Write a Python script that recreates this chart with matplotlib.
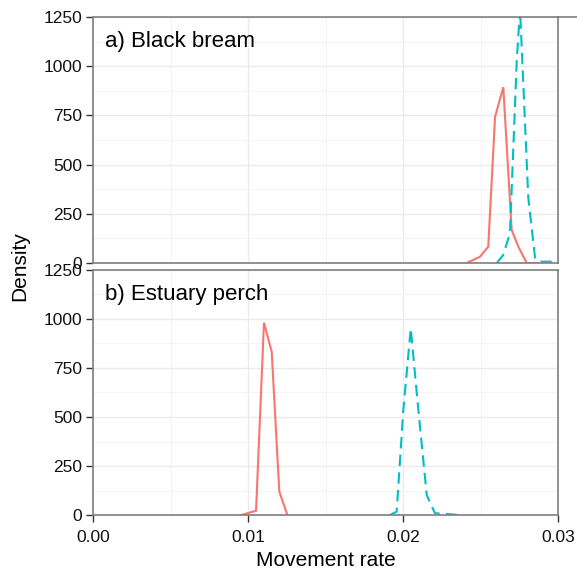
import matplotlib
matplotlib.use("Agg")
import matplotlib.pyplot as plt
from matplotlib.lines import Line2D
from matplotlib.ticker import MultipleLocator

plt.rcParams['font.family'] = ['Liberation Sans', 'DejaVu Sans']

# Panel a) Black bream
a_red_x = [0.02411, 0.02497, 0.02550, 0.02594, 0.02647, 0.02701, 0.02744, 0.02798, 0.02870]
a_red_y = [0, 32, 83, 743, 893, 168, 83, 0, 0]
a_cyan_x = [0.02605, 0.02647, 0.02690, 0.02734, 0.02755, 0.02808, 0.02852, 0.02884, 0.02959]
a_cyan_y = [0, 41, 152, 1031, 1290, 335, 25, 7, 7]

# Panel b) Estuary perch
b_red_x = [0.00959, 0.01052, 0.01103, 0.01153, 0.01202, 0.01254]
b_red_y = [0, 22, 981, 833, 119, 0]
b_cyan_x = [0.01916, 0.01959, 0.02002, 0.02050, 0.02099, 0.02153, 0.02206, 0.02292, 0.02360]
b_cyan_y = [0, 17, 536, 952, 536, 102, 9, 5, 0]

panels = [
    ("a) Black bream", a_red_x, a_red_y, a_cyan_x, a_cyan_y),
    ("b) Estuary perch", b_red_x, b_red_y, b_cyan_x, b_cyan_y),
]
yticks = [0, 250, 500, 750, 1000, 1250]
xticks = [0.00, 0.01, 0.02, 0.03]
xticklabels = ["0.00", "0.01", "0.02", "0.03"]

RED = "#F8766D"
CYAN = "#00BFC4"
BORDER = "#7F7F7F"

fig = plt.figure(figsize=(5.77, 5.71), dpi=100)
left, right = 93 / 577, 558 / 577
rects = [
    (left, (571 - 263) / 571, right - left, (263 - 17) / 571),
    (left, (571 - 515) / 571, right - left, (515 - 270) / 571),
]

for i, (rect, (title, rx, ry, cx, cy)) in enumerate(zip(rects, panels)):
    ax = fig.add_axes(rect)
    ax.set_xlim(0, 0.03)
    ax.set_ylim(0, 1250)
    ax.plot(rx, ry, color=RED, lw=1.5, solid_joinstyle='miter')
    ax.plot(cx, cy, color=CYAN, lw=1.5, ls=(0, (5.5, 3)))
    ax.xaxis.set_major_locator(MultipleLocator(0.01))
    ax.xaxis.set_minor_locator(MultipleLocator(0.005))
    ax.yaxis.set_major_locator(MultipleLocator(250))
    ax.yaxis.set_minor_locator(MultipleLocator(125))
    ax.grid(which='major', color='#EBEBEB', lw=1.0)
    ax.grid(which='minor', color='#F3F3F3', lw=0.6)
    ax.set_axisbelow(True)
    for sp in ax.spines.values():
        sp.set_color(BORDER)
        sp.set_linewidth(1.2)
    ax.set_yticks(yticks)
    ax.set_yticklabels([str(v) for v in yticks])
    ax.tick_params(axis='both', which='major', direction='out', length=5,
                   width=1.0, color='#333333', labelsize=12.5, labelcolor='#111111',
                   pad=3)
    ax.tick_params(axis='x', pad=6)
    ax.tick_params(which='minor', length=0)
    if i == 0:
        ax.tick_params(axis='x', which='both', bottom=False, labelbottom=False)
    else:
        ax.set_xticks(xticks)
        ax.set_xticklabels(xticklabels)
        ax.set_xlabel("Movement rate", fontsize=15, labelpad=4)
    ax.text(12 / 465, 1 - 14 / 246, title, transform=ax.transAxes, ha='left', va='top',
            fontsize=16, color='black')

fig.text(20 / 577, 1 - 266 / 571, "Density", rotation=90, ha='center', va='center',
         fontsize=15)
fig.add_artist(Line2D([right, 1.0], [(571 - 17) / 571] * 2, color=BORDER, lw=1.2,
                      transform=fig.transFigure))

fig.savefig("out.png", dpi=100, facecolor='white')
